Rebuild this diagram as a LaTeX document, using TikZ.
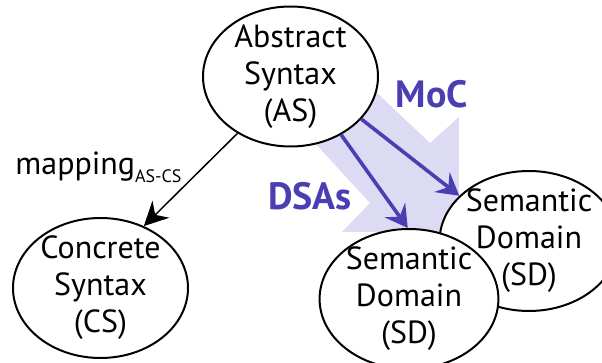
\documentclass[tikz,border=0pt]{standalone}
\usepackage{fontspec}
\setmainfont{PT Sans}
\usetikzlibrary{shapes.geometric,arrows.meta}
\definecolor{mocblue}{RGB}{74,62,178}
\definecolor{mocfill}{RGB}{221,219,243}

\begin{document}
\begin{tikzpicture}[x=0.5pt,y=-0.5pt,
    langbox/.style={ellipse,draw,line width=1pt,fill=white,
        minimum width=87.5pt,minimum height=70pt,
        inner xsep=0pt,inner ysep=-3pt,align=center,
        font=\fontsize{16}{18.5}\selectfont},
    semarrow/.style={draw=mocblue,line width=1.8pt,
        -{Stealth[length=11pt,width=12.5pt,inset=4pt]}},
    semlabel/.style={text=mocblue,font=\fontsize{19}{21}\selectfont\bfseries}
    ]
    \useasboundingbox (0,0) rectangle (602,363);
    \clip (0,0) rectangle (602,363);

    % broad arrow behind the semantics
    \fill[mocfill] (340,58) -- (430,143) -- (459,117) -- (459,232)
        -- (342,232) -- (370,203) -- (280,105) -- cycle;

    \node[langbox] (as) at (290.5,76.5) {Abstract\\Syntax\\(AS)};
    \node[langbox] (cs) at (100.5,288) {Concrete\\Syntax\\(CS)};
    \node[langbox] (sdb) at (529,241) {Semantic\\Domain\\(SD)};
    \node[langbox] (sda) at (409,299) {Semantic\\Domain\\(SD)};

    \draw[line width=0.75pt,-{Stealth[length=12pt,width=12pt,inset=4pt]}]
        (as.-133) -- (cs.55);
    \path
        (as.-31) edge[semarrow] (sdb.147)
        (as.-49) edge[semarrow] (sda.91);

    \node[semlabel] (moc) at (432,94) {MoC};
    \node[semlabel] (dsas) at (310,196) {DSAs};
    \node[anchor=base west,inner sep=0pt,font=\fontsize{16}{18}\selectfont]
        (map) at (15,175)
        {mapping\raisebox{-4pt}{\fontsize{9}{9}\selectfont AS-CS}};
\end{tikzpicture}
\end{document}
